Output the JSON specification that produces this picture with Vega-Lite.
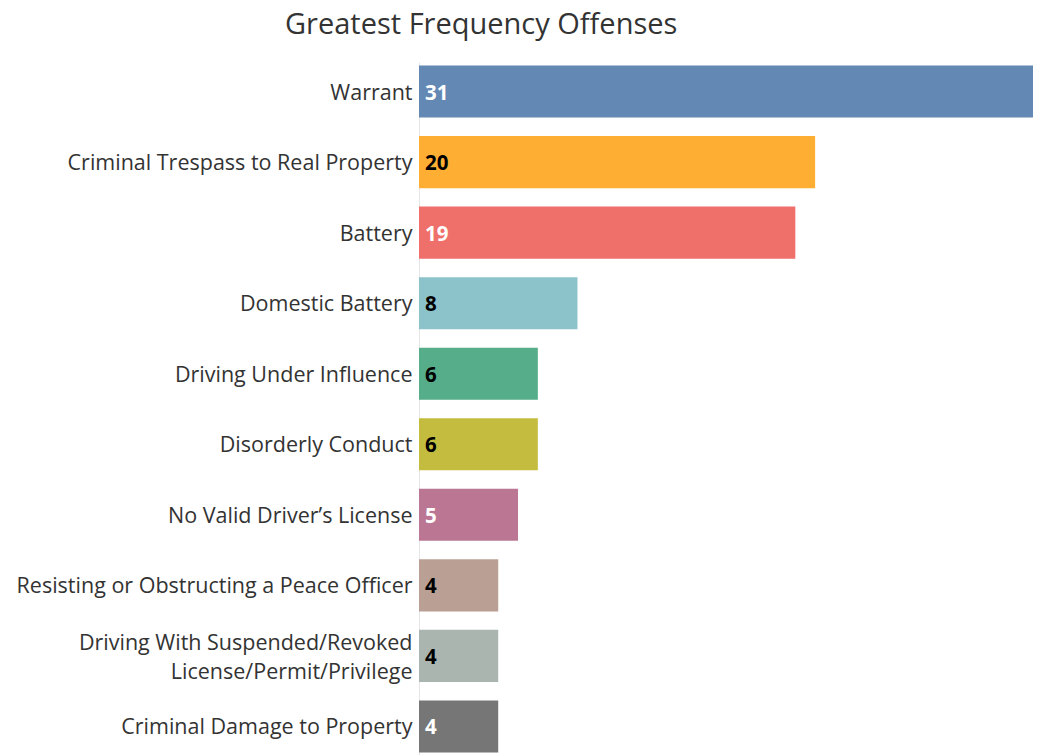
{
  "$schema": "https://vega.github.io/schema/vega-lite/v6.json",
  "autosize": "none",
  "width": 614,
  "height": 694,
  "padding": {"left": 419, "top": 62, "right": 14, "bottom": 0},
  "background": "white",
  "title": {
    "text": "Greatest Frequency Offenses",
    "anchor": "start",
    "frame": "group",
    "dx": -134,
    "offset": 22,
    "font": "Open Sans",
    "fontSize": 29,
    "fontWeight": "normal",
    "color": "#333333"
  },
  "data": {
    "values": [
      {"offense": "Warrant", "count": 31, "rank": 1},
      {"offense": "Criminal Trespass to Real Property", "count": 20, "rank": 2},
      {"offense": "Battery", "count": 19, "rank": 3},
      {"offense": "Domestic Battery", "count": 8, "rank": 4},
      {"offense": "Driving Under Influence", "count": 6, "rank": 5},
      {"offense": "Disorderly Conduct", "count": 6, "rank": 6},
      {"offense": "No Valid Driver’s License", "count": 5, "rank": 7},
      {"offense": "Resisting or Obstructing a Peace Officer", "count": 4, "rank": 8},
      {"offense": "Driving With Suspended/Revoked|License/Permit/Privilege", "count": 4, "rank": 9},
      {"offense": "Criminal Damage to Property", "count": 4, "rank": 10}
    ]
  },
  "encoding": {
    "y": {
      "field": "offense",
      "type": "nominal",
      "sort": {"field": "rank", "order": "ascending"},
      "scale": {"paddingInner": 0.262, "paddingOuter": 0.05},
      "axis": {
        "title": null,
        "ticks": false,
        "labelPadding": 7,
        "labelFont": "Open Sans",
        "labelFontSize": 21.5,
        "labelColor": "#333333",
        "labelLimit": 500,
        "labelLineHeight": 29,
        "labelExpr": "split(datum.label, '|')",
        "labelOffset": {"condition": {"test": "indexof(datum.value, '|') >= 0", "value": -12}, "value": 2},
        "domain": true,
        "domainColor": "#e6e6e6",
        "grid": false
      }
    }
  },
  "layer": [
    {
      "mark": {"type": "bar"},
      "encoding": {
        "x": {
          "field": "count",
          "type": "quantitative",
          "scale": {"domain": [0, 31], "nice": false},
          "axis": null
        },
        "color": {
          "field": "offense",
          "type": "nominal",
          "sort": {"field": "rank", "order": "ascending"},
          "scale": {"range": ["#6388b4", "#ffae34", "#ef6f6a", "#8cc2ca", "#55ad89", "#c3bc3f", "#bb7693", "#baa094", "#a9b5ae", "#767676"]},
          "legend": null
        }
      }
    },
    {
      "mark": {
        "type": "text",
        "align": "left",
        "baseline": "middle",
        "dx": 6,
        "dy": 2,
        "font": "Open Sans",
        "fontSize": 20.5,
        "fontWeight": "bold"
      },
      "encoding": {
        "x": {"datum": 0, "type": "quantitative"},
        "text": {"field": "count", "type": "quantitative"},
        "color": {
          "condition": {
            "test": "indexof(['Warrant','Battery','No Valid Driver’s License','Criminal Damage to Property'], datum.offense) >= 0",
            "value": "white"
          },
          "value": "black"
        }
      }
    }
  ],
  "config": {"view": {"stroke": null}}
}
